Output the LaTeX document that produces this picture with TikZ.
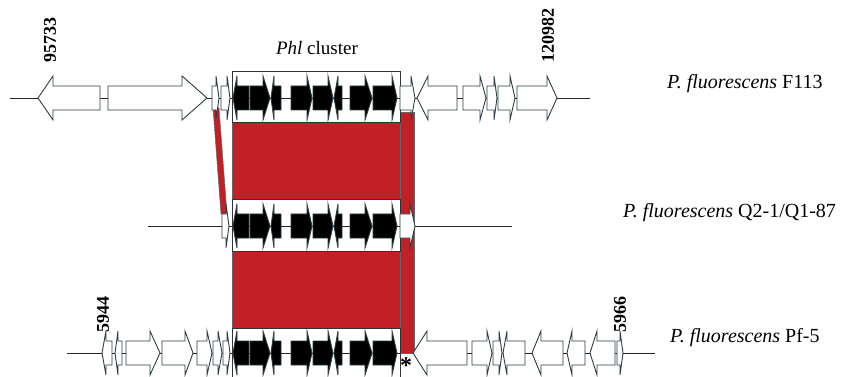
\documentclass[tikz,border=0pt]{standalone}
\usepackage{fontspec}
\setmainfont{Liberation Serif}
\usetikzlibrary{positioning}
\definecolor{bandred}{RGB}{193,32,38}
\definecolor{orfline}{RGB}{45,62,66}

% one gene arrow: body start, head base, tip, row
\newcommand{\orf}[5][]{\draw[orf,#1] (#2,#5-12) -- (#3,#5-12) -- (#3,#5-22) -- (#4,#5) -- (#3,#5+22) -- (#3,#5+12) -- (#2,#5+12) -- cycle;}

\begin{document}
\begin{tikzpicture}[x=1pt,y=-1pt,
  orf/.style={draw=orfline,fill=white,line width=0.9pt},
  core/.style={fill=black},
  band/.style={fill=bandred,draw=black!60,line width=0.5pt},
  box/.style={draw=black!80,line width=0.9pt},
  axis/.style={draw=black!85,line width=0.9pt},
  strain/.style={font=\fontsize{20}{22}\selectfont,anchor=west,inner sep=0pt},
  coord/.style={font=\fontsize{18}{20}\selectfont\bfseries,rotate=90,inner sep=0pt}]
    \useasboundingbox (0,0) rectangle (844,377);

    % backbones
    \draw[axis] (10,98) -- (590,98);
    \draw[axis] (148,226) -- (512,226);
    \draw[axis] (67,353) -- (655,353);

    % homologous regions
    \path[band] (232,122) rectangle (400,199);
    \path[band] (232,251) rectangle (400,328);
    \path[band] (400,112) rectangle (414,353);
    \path[band] (213,108) -- (219,108) -- (227,214) -- (221,214) -- cycle;

    % phl boxes
    \draw[box] (232,71) rectangle (400,122);
    \draw[box] (232,199) rectangle (400,251);
    \draw[box] (232,377) -- (232,328) -- (400,328) -- (400,377);

    % phl genes in the three strains
    \foreach \row in {98,226,353} {
      \foreach \a/\b/\c in {249/237/233,250/263/270,281/274/271,291/307/312,313/328/333,342/338/334,350/365/372,373/392/397} {
        \orf[core]{\a}{\b}{\c}{\row}
      }
    }

    % F113 flanks
    \orf{100}{53}{38}{98}
    \orf{108}{182}{207}{98}
    \orf{212}{216}{219}{98}
    \orf{221}{227}{230}{98}
    \orf{400}{411}{415}{98}
    \orf{457}{428}{417}{98}
    \orf{463}{480}{486}{98}
    \orf{487}{494}{497}{98}
    \orf{498}{510}{515}{98}
    \orf{517}{547}{557}{98}

    % Q2-1 flanks
    \orf{222}{226}{229}{226}
    \orf{400}{410}{415}{226}

    % Pf-5 flanks
    \orf{112}{106}{102}{353}
    \orf{122}{118}{115}{353}
    \orf{126}{150}{160}{353}
    \orf{162}{185}{193}{353}
    \orf{197}{207}{212}{353}
    \orf{213}{218}{222}{353}
    \orf{223}{227}{230}{353}
    \orf{467}{427}{413}{353}
    \orf{472}{487}{492}{353}
    \orf{493}{499}{502}{353}
    \orf{525}{507}{503}{353}
    \orf{563}{541}{532}{353}
    \orf{585}{572}{567}{353}
    \orf{615}{597}{590}{353}
    \orf{617}{620}{623}{353}

    % labels
    \node[coord] (c95733) at (50,40) {95733};
    \node[coord] (c120982) at (548,36) {120982};
    \node[coord] (c5944) at (103,314) {5944};
    \node[coord] (c5966) at (620,314) {5966};
    \node[font=\fontsize{19}{21}\selectfont] (phl) at (317,48) {\textit{Phl} cluster};
    \node[strain] (f113) at (667,84) {\textit{P. fluorescens} F113};
    \node[strain] (q21) at (623,213) {\textit{P. fluorescens} Q2-1/Q1-87};
    \node[strain] (pf5) at (670,338) {\textit{P. fluorescens} Pf-5};
    \node[font=\fontsize{24}{26}\selectfont\bfseries,inner sep=0pt,anchor=north] (ast) at (406,357) {*};
\end{tikzpicture}
\end{document}
